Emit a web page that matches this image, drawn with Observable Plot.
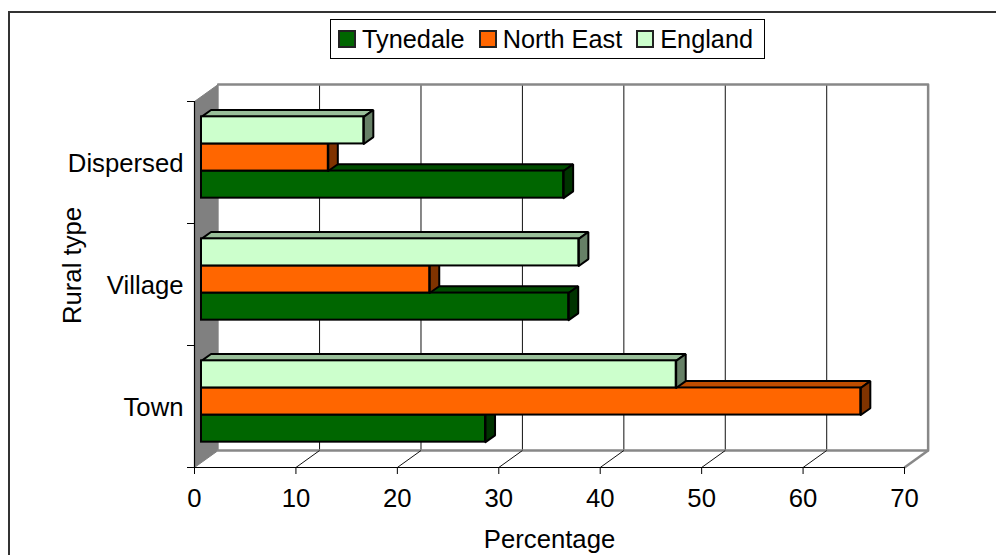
<!DOCTYPE html>
<html><head><meta charset="utf-8">
<script src="https://cdn.jsdelivr.net/npm/d3@7"></script>
<script src="https://cdn.jsdelivr.net/npm/@observablehq/plot@0.6"></script>
<style>
html,body{margin:0;padding:0;background:#fff;font-family:"Liberation Sans",Arial,sans-serif}
#wrap{position:relative;width:996px;height:555px;overflow:hidden}
#outer{position:absolute;left:8px;top:11px;width:1100px;height:700px;border:2px solid #333;box-sizing:border-box;pointer-events:none}
#legend{position:absolute;left:330px;top:19px;width:435px;height:40px;box-sizing:border-box;border:1px solid #000;background:#fff;display:flex;align-items:center;font-size:25.3px;color:#000;padding-left:7px;white-space:nowrap}
#legend span.k{display:inline-block;flex:none;width:18px;height:18px;box-sizing:border-box;border:2px solid #222;margin-right:6px}
#legend span.t{margin-right:14px}
</style></head><body>
<div id="wrap"><div id="outer"></div><div id="chart"></div><div id="legend"></div></div>
<script>
const categories = ["Town", "Village", "Dispersed"];
const seriesNames = ["Tynedale", "North East", "England"];
const tynedale = [28, 36.2, 35.7];
const northEast = [65, 22.5, 12.5];
const england = [46.8, 37.2, 16];
const seriesValues = [tynedale, northEast, england];
const frontColors = ["#006600", "#ff6600", "#ccffcc"];
const topColors = ["#004c00", "#bf4d00", "#99bf99"];
const sideColors = ["#003300", "#803300", "#668066"];
const xTicks = [0, 10, 20, 30, 40, 50, 60, 70];

// depth of the 3D box and bars, in data units of the two scales
const wallX = 2.33, wallY = 0.139;
const barDepthX = 0.94, barDepthY = 0.056;
const barOriginX = 0.69, barOriginY = 0.041;
const barH = 1 / 4.5, gap = 0.75 * barH;

const poly = (pts) => pts.map(([x, y]) => ({x, y}));
const marks = [];

// side wall, floor outline, back wall outline
marks.push(Plot.line(poly([[0,0],[wallX,wallY],[wallX,3+wallY],[0,3],[0,0]]), {x:"x", y:"y", fill:"#808080", stroke:"#808080", strokeWidth:1}));
marks.push(Plot.ruleX(xTicks.slice(1,-1), {x:d=>d+wallX, y1:wallY, y2:3+wallY, stroke:"#111", strokeWidth:1}));
marks.push(Plot.line(poly([[wallX,3+wallY],[70+wallX,3+wallY],[70+wallX,wallY],[wallX,wallY]]), {x:"x", y:"y", stroke:"#888", strokeWidth:2.5}));
marks.push(Plot.link(xTicks.slice(1,-1), {x1:d=>d, y1:0, x2:d=>d+wallX, y2:wallY, stroke:"#111", strokeWidth:1}));
marks.push(Plot.link([70], {x1:d=>d, y1:0, x2:d=>d+wallX, y2:wallY, stroke:"#888", strokeWidth:2.5}));

// bars
seriesValues.forEach((vals, s) => {
  const rows = vals.map((v, c) => {
    const y1 = c + barOriginY + gap + s * barH, y2 = y1 + barH;
    return {x1: barOriginX, x2: barOriginX + v, y1, y2};
  });
  const line = {stroke:"#000", strokeWidth:2, strokeLinejoin:"miter"};
  rows.forEach(r => {
    marks.push(Plot.line(poly([[r.x1,r.y2],[r.x1+barDepthX,r.y2+barDepthY],[r.x2+barDepthX,r.y2+barDepthY],[r.x2,r.y2],[r.x1,r.y2]]), {x:"x", y:"y", fill:topColors[s], ...line}));
    marks.push(Plot.line(poly([[r.x2,r.y1],[r.x2+barDepthX,r.y1+barDepthY],[r.x2+barDepthX,r.y2+barDepthY],[r.x2,r.y2],[r.x2,r.y1]]), {x:"x", y:"y", fill:sideColors[s], ...line}));
    marks.push(Plot.rect([r], {x1:"x1", x2:"x2", y1:"y1", y2:"y2", fill:frontColors[s], ...line}));
  });
});

// axes
marks.push(Plot.ruleY([0], {stroke:"#000", strokeWidth:1.2}));
marks.push(Plot.ruleX([0], {stroke:"#000", strokeWidth:1.2}));
marks.push(Plot.axisX({ticks:xTicks, tickSize:7, tickPadding:14, tickFormat:d=>String(d), label:"Percentage", labelAnchor:"center", labelArrow:"none", labelOffset:80, stroke:"#000"}));
marks.push(Plot.axisY({ticks:[0,1,2,3], tickSize:7, tickFormat:()=>"", label:null, stroke:"#000"}));
marks.push(Plot.axisY({ticks:[0.5,1.5,2.5], tickSize:0, tickPadding:11, dy:1.5, tickFormat:d=>categories[d-0.5], label:null}));
marks.push(Plot.text(["Rural type"], {frameAnchor:"left", textAnchor:"middle", rotate:-90, dx:-122, dy:-19, fill:"#000"}));

const chart = Plot.plot({
  width: 996, height: 555,
  marginLeft: 194, marginRight: 92, marginTop: 101, marginBottom: 88,
  style: {fontFamily:'"Liberation Sans", Arial, sans-serif', fontSize:"25.7px", color:"#000", background:"transparent", overflow:"visible"},
  x: {domain:[0,70], axis:null},
  y: {domain:[0,3], axis:null},
  marks
});
document.getElementById("chart").appendChild(chart);

const legend = document.getElementById("legend");
seriesNames.forEach((n, i) => {
  const k = document.createElement("span"); k.className = "k"; k.style.background = frontColors[i];
  const t = document.createElement("span"); t.className = "t"; t.textContent = n;
  legend.append(k, t);
});
</script>
</body></html>
